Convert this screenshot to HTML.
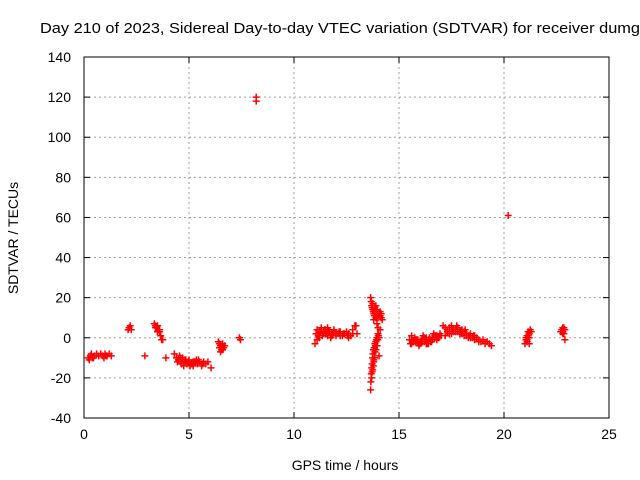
<!DOCTYPE html>
<html><head><meta charset="utf-8"><style>
body{margin:0;background:#fff}
svg{display:block;font-family:"Liberation Sans",sans-serif}
</style></head><body>
<svg id="chart" width="640" height="480">
<text x="40" y="33" font-size="15" textLength="600" lengthAdjust="spacingAndGlyphs">Day 210 of 2023, Sidereal Day-to-day VTEC variation (SDTVAR) for receiver dumg</text>
<g id="grid"></g>
<g id="axes"></g>
<g id="marks"></g>
<text x="345" y="470" font-size="14" text-anchor="middle">GPS time / hours</text>
<text transform="translate(18,238) rotate(-90)" font-size="14" text-anchor="middle">SDTVAR / TECUs</text>
</svg>
<script>
const xTicks=[0,5,10,15,20,25];
const yTicks=[-40,-20,0,20,40,60,80,100,120,140];
const times=[0.2,0.3,0.4,0.5,0.6,0.7,0.8,0.9,1.0,1.1,1.2,1.3,0.25,0.35,0.45,0.95,1.05,
2.1,2.15,2.2,2.25,2.9,3.35,3.4,3.45,3.5,3.55,3.6,3.65,3.7,3.75,3.9,3.4,3.5,3.6,
4.3,4.4,4.5,4.6,4.7,4.8,4.9,5.0,5.1,5.2,5.3,5.4,5.5,5.6,5.7,5.8,5.9,6.05,
4.45,4.65,4.85,5.05,5.25,5.45,5.65,4.55,4.75,4.95,5.15,5.35,4.6,4.8,5.0,5.2,
6.4,6.45,6.5,6.55,6.6,6.65,6.7,6.5,6.6,6.55,6.45,7.4,7.45,8.2,8.2,
11.0,11.05,11.1,11.15,11.2,11.3,11.4,11.5,11.6,11.7,11.8,11.9,12.0,12.1,12.2,12.3,12.4,12.5,12.6,12.7,12.8,12.9,13.0,
11.1,11.2,11.3,11.4,11.5,11.6,11.7,11.8,11.9,12.0,12.2,12.4,12.6,12.8,12.95,
11.25,11.35,11.45,11.55,11.65,11.75,11.85,12.15,12.35,12.55,
13.65,13.68,13.7,13.72,13.75,13.78,13.8,13.85,13.9,13.95,14.0,14.05,14.1,14.15,14.2,13.8,13.9,14.0,14.1,14.05,14.0,13.95,
13.75,13.85,13.95,14.1,14.15,13.72,13.82,
13.65,13.66,13.68,13.7,13.72,13.74,13.76,13.78,13.8,13.82,13.85,13.88,13.9,13.92,13.95,13.98,14.0,14.02,14.05,13.7,13.75,13.8,13.85,13.9,
13.72,13.78,13.84,13.9,13.96,
15.5,15.6,15.7,15.8,15.9,16.0,16.1,16.2,16.3,16.4,16.5,16.6,16.7,16.8,16.9,17.0,
15.55,15.65,15.75,15.85,15.95,16.05,16.15,16.25,16.35,16.45,16.55,16.65,16.75,16.85,16.95,
15.6,15.8,16.0,16.2,16.4,16.6,16.8,15.7,15.9,16.1,16.3,16.5,16.7,
17.1,17.2,17.3,17.4,17.5,17.6,17.7,17.8,17.9,18.0,18.1,18.2,18.3,18.4,18.5,18.6,18.7,18.8,18.9,19.0,19.1,19.2,19.3,19.4,
17.2,17.4,17.6,17.8,18.0,18.2,18.4,18.6,18.8,17.5,17.7,17.9,18.1,18.3,
17.3,17.55,17.75,17.95,18.15,18.35,18.55,
20.2,21.0,21.05,21.1,21.15,21.2,21.25,21.3,21.1,21.2,21.05,21.15,21.1,21.2,
22.7,22.75,22.8,22.85,22.9,22.75,22.85,22.9,22.8,22.8];
const values=[-10,-9,-10,-9,-8,-9,-8,-9,-8,-9,-8,-9,-11,-8,-10,-10,-9,
4,5,6,4,-9,7,6,5,6,4,3,1,-1,-1,-10,5,3,4,
-8,-10,-11,-12,-10,-12,-13,-12,-13,-14,-12,-13,-12,-14,-12,-13,-12,-15,
-12,-13,-11,-14,-12,-11,-13,-9,-14,-12,-13,-11,-10,-11,-11,-12,
-2,-3,-4,-5,-6,-5,-4,-7,-3,-6,-5,0,-1,120,118,
-3,2,4,1,3,5,2,4,1,3,2,4,1,2,3,1,2,3,2,1,4,6,2,
-1,0,4,3,2,5,3,1,3,2,1,2,0,2,6,
3,1,4,2,3,0,2,3,2,1,
20,18,16,15,14,13,12,15,16,14,10,12,11,10,9,9,10,5,4,0,2,7,
17,13,11,13,12,16,11,
-26,-22,-18,-15,-13,-10,-8,-6,-12,-5,-3,-4,-2,-1,0,-1,2,1,-9,-20,-16,-11,-7,-2,
-17,-14,-10,-6,-4,
-1,-3,-2,-1,-2,-3,-1,-2,-3,-1,-2,-1,0,1,0,1,
-3,-2,0,-1,-4,-2,1,-1,-3,0,-2,2,1,0,2,
1,-2,-2,0,-3,0,-1,-2,-1,-2,0,-1,1,
6,5,4,5,6,3,4,5,2,4,3,2,1,2,0,1,0,-1,-2,-1,-3,-2,-3,-4,
1,2,4,3,2,1,0,-1,-2,2,3,3,1,0,
3,4,6,3,4,1,1,
61,-3,-1,1,3,2,4,3,-2,-3,0,1,-1,0,
3,4,2,5,4,3,2,-1,5,3];
const W=640,H=480,L=84,R=609,T=57,B=418;
const sx=v=>L+(v-0)/(25-0)*(R-L);
const sy=v=>B-(v+40)/(140+40)*(B-T);
const NS='http://www.w3.org/2000/svg';
function mk(tag,attrs,parent){const e=document.createElementNS(NS,tag);for(const k in attrs)e.setAttribute(k,attrs[k]);parent.appendChild(e);return e;}
const grid=document.getElementById('grid'),axes=document.getElementById('axes'),marks=document.getElementById('marks');
xTicks.forEach(t=>{
 const x=sx(t);
 if(t>0&&t<25){const g=mk('line',{x1:x,y1:T,x2:x,y2:B,stroke:'#a0a0a0','stroke-dasharray':'2,3'},grid);
 
 }
 mk('line',{x1:x,y1:B,x2:x,y2:B-6,stroke:'#000'},axes);
 mk('line',{x1:x,y1:T,x2:x,y2:T+6,stroke:'#000'},axes);
 const lb=mk('text',{x:x,y:B+21,'font-size':14,'text-anchor':'middle'},axes);lb.textContent=t;
 
 
});
yTicks.forEach(t=>{
 const y=sy(t);
 if(t>-40&&t<140){const g=mk('line',{x1:L,y1:y,x2:R,y2:y,stroke:'#a0a0a0','stroke-dasharray':'2,3'},grid);
 
 }
 mk('line',{x1:L,y1:y,x2:L+6,y2:y,stroke:'#000'},axes);
 mk('line',{x1:R,y1:y,x2:R-6,y2:y,stroke:'#000'},axes);
 const lb=mk('text',{x:L-13,y:y+5,'font-size':14,'text-anchor':'end'},axes);lb.textContent=t;
 
 
});
const fr=mk('rect',{x:L,y:T,width:R-L,height:B-T,fill:'none',stroke:'#000'},axes);


times.forEach((t,i)=>{
 const x=sx(t),y=sy(values[i]);
 const p=mk('path',{d:`M${x-3.5},${y}H${x+3.5}M${x},${y-3.5}V${y+3.5}`,stroke:'#f00','stroke-width':1.5},marks);
 
 
});
</script>
</body></html>
